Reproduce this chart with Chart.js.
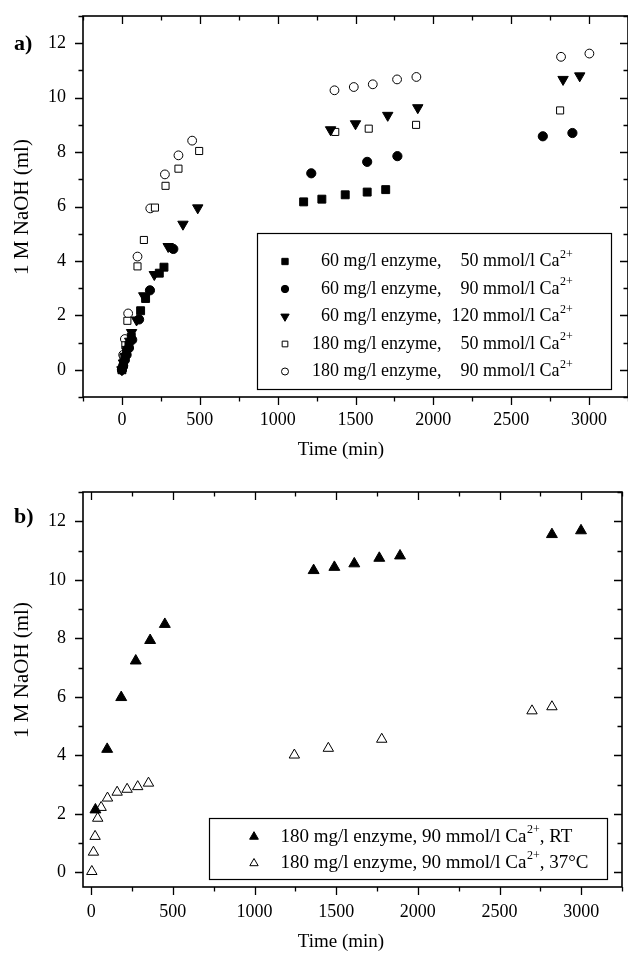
<!DOCTYPE html>
<html>
<head>
<meta charset="utf-8">
<script src="https://cdn.jsdelivr.net/npm/chart.js@4.4.0/dist/chart.umd.min.js"></script>
<style>
  body { margin: 0; background: #fff; }
  #wrap { position: relative; width: 628px; height: 955px; }
  canvas { position: absolute; left: 0; }
  #chart-a { top: 0; }
  #chart-b { top: 470px; }
</style>
</head>
<body>
<div id="wrap">
  <canvas id="chart-a" width="628" height="470"></canvas>
  <canvas id="chart-b" width="628" height="485"></canvas>
</div>
<script>
// ---- panel a: 60 / 180 mg/l enzyme at several Ca2+ levels ----
var enzymeDose = ['60', '60', '60', '180', '180'];
var calcium = ['50', '90', '120', '50', '90'];

var t60_50 = [0, 10, 20, 30, 45, 60, 120, 152, 240, 270, 1167, 1284, 1434, 1575, 1694];
var v60_50 = [0, 0.2, 0.45, 0.65, 0.9, 1.2, 2.17, 2.62, 3.55, 3.77, 6.17, 6.27, 6.43, 6.53, 6.62];

var t60_90 = [0, 8, 18, 30, 45, 66, 110, 180, 330, 1216, 1575, 1769, 2703, 2893];
var v60_90 = [0, 0.15, 0.35, 0.55, 0.8, 1.1, 1.85, 2.92, 4.44, 7.22, 7.64, 7.85, 8.58, 8.70];

var t60_120 = [0, 10, 22, 35, 50, 62, 94, 140, 208, 297, 392, 487, 1340, 1500, 1707, 1900, 2833, 2940];
var v60_120 = [0, 0.25, 0.5, 0.75, 1.05, 1.37, 1.83, 2.72, 3.5, 4.53, 5.35, 5.95, 8.82, 9.04, 9.35, 9.63, 10.67, 10.8];

var t180_50 = [0, 10, 22, 35, 100, 141, 212, 280, 363, 496, 1370, 1585, 1889, 2814];
var v180_50 = [0, 0.45, 0.9, 1.8, 3.8, 4.77, 5.96, 6.76, 7.39, 8.04, 8.74, 8.86, 9.0, 9.53];

var t180_90 = [0, 8, 19, 40, 100, 182, 276, 363, 451, 1365, 1489, 1611, 1767, 1891, 2820, 3002];
var v180_90 = [0, 0.55, 1.13, 2.07, 4.16, 5.93, 7.18, 7.88, 8.42, 10.27, 10.39, 10.49, 10.67, 10.76, 11.5, 11.62];

// ---- panel b: 180 mg/l enzyme, 90 mmol/l Ca2+ at RT and 37 C ----
var tRT = [26, 98, 184, 273, 361, 451, 1362, 1489, 1611, 1764, 1891, 2821, 2999];
var vRT = [2.14, 4.21, 5.98, 7.23, 7.93, 8.48, 10.32, 10.43, 10.55, 10.74, 10.82, 11.55, 11.68];

var t37 = [4, 14, 24, 40, 61, 100, 159, 220, 285, 351, 1244, 1452, 1779, 2699, 2821];
var v37 = [0.03, 0.69, 1.23, 1.85, 2.22, 2.54, 2.74, 2.84, 2.93, 3.05, 4.01, 4.24, 4.55, 5.52, 5.66];

var timeTicks = [0, 500, 1000, 1500, 2000, 2500, 3000];
var naohTicks = [0, 2, 4, 6, 8, 10, 12];

var FONT = '"Liberation Serif", "Times New Roman", serif';
Chart.defaults.font.family = FONT;
Chart.defaults.color = '#000';

function pts(xs, ys) {
    return xs.map(function (x, i) { return { x: x, y: ys[i] }; });
}

// box, inward/outward ticks, axis titles and panel letter
var framePlugin = {
    id: 'frame',
    afterDraw: function (chart, args, o) {
        var ctx = chart.ctx, a = chart.chartArea;
        var xs = chart.scales.x, ys = chart.scales.y;
        var isMajor = function (v, step) { return Math.abs(v / step - Math.round(v / step)) < 1e-6; };
        ctx.save();
        ctx.strokeStyle = '#000';
        ctx.lineWidth = 1.3;
        ctx.beginPath();
        var v, p, len;
        for (v = Math.ceil(xs.min / o.xMinor) * o.xMinor; v <= xs.max + 1e-6; v += o.xMinor) {
            p = Math.round(xs.getPixelForValue(v)) + 0.5;
            len = isMajor(v, o.xMajor) ? 8 : 4.5;
            ctx.moveTo(p, a.bottom); ctx.lineTo(p, a.bottom + len);
            ctx.moveTo(p, a.top); ctx.lineTo(p, a.top + len);
        }
        for (v = Math.ceil(ys.min / o.yMinor) * o.yMinor; v <= ys.max + 1e-6; v += o.yMinor) {
            p = Math.round(ys.getPixelForValue(v)) + 0.5;
            len = isMajor(v, o.yMajor) ? 8 : 4.5;
            ctx.moveTo(a.left, p); ctx.lineTo(a.left - len, p);
            ctx.moveTo(a.right, p); ctx.lineTo(a.right - len, p);
        }
        ctx.stroke();
        ctx.lineWidth = 1.6;
        ctx.strokeRect(a.left, a.top, a.right - a.left, a.bottom - a.top);

        ctx.fillStyle = '#000';
        ctx.textAlign = 'center';
        ctx.textBaseline = 'middle';
        ctx.font = '19px ' + FONT;
        ctx.fillText(o.xTitle, o.xTitleX, o.xTitleY);
        ctx.save();
        ctx.translate(o.yTitleX, o.yTitleY);
        ctx.rotate(-Math.PI / 2);
        ctx.font = '21px ' + FONT;
        ctx.fillText(o.yTitle, 0, 0);
        ctx.restore();
        ctx.textAlign = 'left';
        ctx.font = 'bold 22px ' + FONT;
        ctx.fillText(o.panel, o.panelX, o.panelY);
        ctx.restore();
    }
};

// framed key with Ca2+ superscripts
var keyPlugin = {
    id: 'key',
    afterDatasetsDraw: function (chart, args, o) {
        var ctx = chart.ctx, b = o.box;
        ctx.save();
        ctx.fillStyle = '#fff';
        ctx.fillRect(b[0], b[1], b[2] - b[0], b[3] - b[1]);
        ctx.strokeStyle = '#000';
        ctx.lineWidth = 1.2;
        ctx.strokeRect(b[0] + 0.5, b[1] + 0.5, b[2] - b[0], b[3] - b[1]);
        chart.data.datasets.forEach(function (ds, i) {
            var cy = o.rowY + i * o.rowGap;
            ctx.fillStyle = ds.backgroundColor;
            ctx.strokeStyle = ds.borderColor;
            ctx.lineWidth = ds.borderWidth;
            Chart.helpers.drawPoint(ctx, {
                pointStyle: ds.pointStyle,
                radius: ds.pointRadius * 0.8,
                rotation: ds.pointRotation || 0,
                borderWidth: ds.borderWidth
            }, o.markX, cy);

            ctx.fillStyle = '#000';
            ctx.textBaseline = 'middle';
            ctx.font = o.size + 'px ' + FONT;
            ctx.textAlign = 'right';
            ctx.fillText(ds.dose, o.col1, cy);
            ctx.textAlign = 'left';
            var s = ' mg/l enzyme,';
            ctx.fillText(s, o.col1, cy);
            var x = o.col1 + ctx.measureText(s).width;
            if (o.col2) {
                ctx.textAlign = 'right';
                ctx.fillText(ds.ca, o.col2, cy);
                ctx.textAlign = 'left';
                x = o.col2;
                s = ' mmol/l Ca';
            } else {
                s = ' ' + ds.ca + ' mmol/l Ca';
            }
            ctx.fillText(s, x, cy);
            x += ctx.measureText(s).width + 0.5;
            ctx.font = Math.round(o.size * 0.65) + 'px ' + FONT;
            ctx.fillText('2+', x, cy - o.size * 0.38);
            x += ctx.measureText('2+').width;
            if (ds.note) {
                ctx.font = o.size + 'px ' + FONT;
                ctx.fillText(ds.note, x, cy);
            }
        });
        ctx.restore();
    }
};

function axes(xmin, xmax, ymin, ymax, xPad, xHeight) {
    return {
        x: {
            type: 'linear', min: xmin, max: xmax,
            afterBuildTicks: function (s) { s.ticks = timeTicks.map(function (v) { return { value: v }; }); },
            afterFit: function (s) { s.height = xHeight; s.paddingLeft = 0; s.paddingRight = 0; },
            grid: { display: false, drawTicks: false },
            border: { display: false },
            ticks: {
                padding: xPad, maxRotation: 0, autoSkip: false, font: { size: 18 },
                callback: function (v) { return String(v); }
            }
        },
        y: {
            type: 'linear', min: ymin, max: ymax,
            afterBuildTicks: function (s) { s.ticks = naohTicks.map(function (v) { return { value: v }; }); },
            afterFit: function (s) { s.width = 83; s.paddingTop = 0; s.paddingBottom = 0; },
            grid: { display: false, drawTicks: false },
            border: { display: false },
            ticks: {
                padding: 17, autoSkip: false, font: { size: 18 },
                callback: function (v) { return String(v); }
            }
        }
    };
}

var filled = { backgroundColor: '#000', borderColor: '#000', borderWidth: 1 };
var hollow = { backgroundColor: '#fff', borderColor: '#000', borderWidth: 1 };
function series(xs, ys, style, marker, extra) {
    return Object.assign({ data: pts(xs, ys), showLine: false }, style, marker, extra);
}

new Chart(document.getElementById('chart-a'), {
    type: 'scatter',
    data: {
        datasets: [
            series(t60_50, v60_50, filled, { pointStyle: 'rect', pointRadius: 5.6 }, { dose: enzymeDose[0], ca: calcium[0] }),
            series(t60_90, v60_90, filled, { pointStyle: 'circle', pointRadius: 4.6 }, { dose: enzymeDose[1], ca: calcium[1] }),
            series(t60_120, v60_120, filled, { pointStyle: 'triangle', pointRadius: 6, pointRotation: 180 }, { dose: enzymeDose[2], ca: calcium[2] }),
            series(t180_50, v180_50, hollow, { pointStyle: 'rect', pointRadius: 5 }, { dose: enzymeDose[3], ca: calcium[3] }),
            series(t180_90, v180_90, hollow, { pointStyle: 'circle', pointRadius: 4.4 }, { dose: enzymeDose[4], ca: calcium[4] })
        ]
    },
    options: {
        responsive: false,
        animation: false,
        events: [],
        layout: { autoPadding: false, padding: { top: 16, right: 0, left: 0, bottom: 0 } },
        scales: axes(-250, 3250, -1, 13, 12, 73),
        plugins: {
            legend: { display: false },
            tooltip: { enabled: false },
            frame: {
                xMajor: 500, xMinor: 250, yMajor: 2, yMinor: 1,
                xTitle: 'Time (min)', xTitleX: 341, xTitleY: 450,
                yTitle: '1 M NaOH (ml)', yTitleX: 22, yTitleY: 207,
                panel: 'a)', panelX: 14, panelY: 44
            },
            key: {
                box: [257, 233, 611, 389], rowY: 261.5, rowGap: 27.5,
                markX: 285, col1: 339, col2: 478.5, size: 18
            }
        }
    },
    plugins: [framePlugin, keyPlugin]
});

new Chart(document.getElementById('chart-b'), {
    type: 'scatter',
    data: {
        datasets: [
            series(tRT, vRT, filled, { pointStyle: 'triangle', pointRadius: 6.3 }, { dose: '180', ca: '90', note: ', RT' }),
            series(t37, v37, hollow, { pointStyle: 'triangle', pointRadius: 6 }, { dose: '180', ca: '90', note: ', 37\u00B0C' })
        ]
    },
    options: {
        responsive: false,
        animation: false,
        events: [],
        layout: { autoPadding: false, padding: { top: 22, right: 6, left: 0, bottom: 0 } },
        scales: axes(-50, 3250, -0.5, 13, 14, 68),
        plugins: {
            legend: { display: false },
            tooltip: { enabled: false },
            frame: {
                xMajor: 500, xMinor: 250, yMajor: 2, yMinor: 1,
                xTitle: 'Time (min)', xTitleX: 341, xTitleY: 472,
                yTitle: '1 M NaOH (ml)', yTitleX: 22, yTitleY: 200,
                panel: 'b)', panelX: 14, panelY: 47
            },
            key: {
                box: [209, 348, 607, 409], rowY: 366.7, rowGap: 26.6,
                markX: 254, col1: 309, col2: 0, size: 19
            }
        }
    },
    plugins: [framePlugin, keyPlugin]
});
</script>
</body>
</html>
